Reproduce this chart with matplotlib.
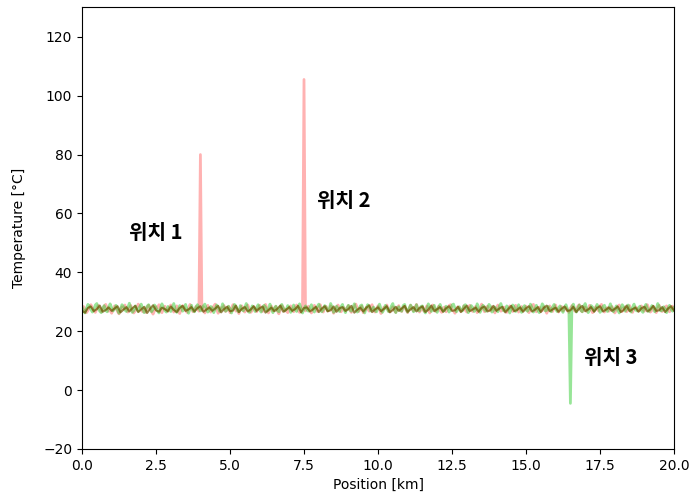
import numpy as np
import matplotlib
matplotlib.use("Agg")
import matplotlib.pyplot as plt

plt.rcParams['font.family'] = ['Noto Sans CJK KR', 'DejaVu Sans']

# position grids along the cable [km]
position = np.linspace(0, 20, 401)
position_ref = np.linspace(0, 20, 201)

# trace 1 (hot spots at 4.0 km and 7.5 km)
temp_red = [
    27.6, 28.4, 27.1, 26.3, 27.0, 28.2, 29.0, 28.1, 26.9, 26.4, 27.5, 28.8, 27.7, 26.6, 27.3, 28.5, 29.1, 27.9, 26.8, 27.4,
    26.1, 27.2, 28.6, 28.0, 26.7, 25.9, 27.1, 28.3, 27.6, 28.9, 27.4, 26.5, 27.8, 28.7, 27.0, 26.2, 26.9, 28.1, 29.2, 28.4,
    27.3, 26.6, 27.7, 26.4, 28.0, 28.8, 27.5, 26.8, 25.8, 27.0, 28.3, 27.9, 29.0, 27.2, 26.3, 27.6, 28.5, 27.1, 26.7, 28.2,
    28.9, 27.8, 26.5, 27.3, 28.6, 26.9, 26.0, 27.4, 28.7, 28.1, 27.0, 26.4, 27.9, 29.1, 27.5, 26.6, 27.2, 28.4, 27.7, 26.8,
    80.0, 27.1, 28.3, 26.2, 27.6, 28.8, 27.3, 26.5, 27.9, 28.5, 29.2, 27.4, 26.1, 26.9, 28.0, 27.5, 28.7, 26.7, 27.2, 28.4,
    26.3, 27.8, 29.0, 28.2, 26.8, 27.4, 26.0, 27.7, 28.6, 27.1, 26.5, 28.1, 28.9, 27.6, 26.4, 27.0, 28.3, 27.8, 26.6, 27.5,
    28.8, 27.2, 26.7, 28.0, 29.1, 27.9, 26.2, 27.3, 28.5, 26.9, 27.6, 28.4, 27.0, 25.9, 27.2, 28.7, 28.1, 26.8, 27.4, 26.3,
    27.9, 28.6, 27.5, 26.6, 28.2, 28.9, 27.1, 26.4, 27.7, 28.3, 105.5, 26.9, 27.8, 28.5, 27.0, 26.2, 27.4, 28.8, 27.6, 26.7,
    28.1, 29.0, 27.3, 26.5, 27.9, 28.4, 26.8, 27.2, 28.6, 27.5, 26.1, 27.0, 28.2, 28.9, 27.7, 26.6, 27.3, 28.0, 26.9, 27.8,
    28.7, 27.1, 26.4, 27.6, 28.3, 29.2, 27.9, 26.7, 27.4, 28.5, 26.3, 27.0, 28.1, 27.6, 26.8, 28.4, 29.0, 27.2, 26.5, 27.7,
    28.6, 27.4, 26.0, 27.1, 28.2, 27.8, 28.9, 26.9, 26.6, 27.5, 28.3, 27.0, 26.4, 27.9, 28.7, 27.3, 26.7, 28.0, 28.5, 27.2,
    26.3, 27.6, 28.8, 27.4, 26.9, 28.1, 29.1, 27.7, 26.5, 27.2, 28.4, 26.8, 27.5, 28.6, 27.1, 26.2, 27.8, 28.9, 28.0, 26.7,
    27.3, 28.5, 27.0, 26.4, 27.9, 28.2, 26.6, 27.4, 28.7, 29.0, 27.6, 26.9, 26.1, 27.5, 28.3, 27.8, 26.8, 27.2, 28.6, 27.1,
    26.5, 28.0, 28.8, 27.3, 26.7, 27.9, 28.4, 26.3, 27.0, 28.1, 29.2, 27.5, 26.6, 27.7, 28.5, 27.2, 26.9, 28.3, 27.4, 26.2,
    27.8, 28.9, 27.6, 26.8, 27.1, 28.2, 27.0, 26.4, 27.5, 28.6, 28.0, 26.7, 27.3, 28.8, 27.9, 26.5, 27.2, 28.4, 26.9, 27.7,
    28.5, 27.1, 26.3, 27.6, 28.7, 29.1, 27.4, 26.6, 27.9, 28.2, 26.8, 27.0, 28.3, 27.5, 26.1, 27.3, 28.6, 27.8, 26.7, 28.0,
    28.9, 27.2, 26.5, 27.7, 28.4, 26.9, 27.4, 28.1, 27.0, 26.4, 27.8, 28.7, 27.6, 26.8, 27.3, 28.5, 29.0, 27.1, 26.6, 27.9,
    28.2, 26.7, 27.5, 28.8, 27.2, 26.3, 27.0, 28.3, 27.7, 26.9, 28.6, 29.1, 27.4, 26.5, 27.8, 28.0, 26.8, 27.3, 28.4, 27.6,
    26.2, 27.1, 28.5, 28.9, 27.5, 26.7, 27.9, 28.2, 26.6, 27.4, 28.7, 27.0, 26.4, 27.6, 28.3, 27.8, 26.9, 27.2, 28.6, 27.3,
    26.8, 28.1, 29.0, 27.7, 26.5, 27.0, 28.4, 27.5, 26.3, 27.9, 28.8, 27.2, 26.7, 27.4, 28.2, 28.6, 27.1, 26.6, 27.8, 28.5,
    27.3,
]

# trace 2 (cold spot at 16.5 km)
temp_green = [
    28.3, 27.0, 26.2, 27.8, 29.1, 28.6, 27.4, 26.5, 27.2, 28.9, 29.4, 27.7, 26.8, 26.3, 27.9, 28.7, 27.1, 26.6, 28.2, 29.3,
    28.0, 26.9, 27.5, 28.8, 27.3, 26.1, 27.6, 29.0, 28.4, 27.2, 26.7, 28.1, 29.5, 27.9, 26.4, 27.0, 28.6, 27.5, 26.8, 28.3,
    29.2, 27.6, 26.3, 27.1, 28.5, 29.0, 27.8, 26.6, 27.4, 28.9, 28.2, 26.9, 26.2, 27.7, 29.3, 28.1, 27.0, 26.5, 28.4, 27.3,
    26.7, 28.0, 29.4, 27.5, 26.4, 27.2, 28.7, 28.3, 26.8, 27.9, 29.1, 27.4, 26.1, 27.6, 28.8, 27.0, 26.6, 28.2, 29.0, 27.8,
    26.9, 27.3, 28.6, 29.2, 27.7, 26.5, 27.1, 28.4, 27.9, 26.3, 27.5, 28.9, 28.1, 26.7, 27.4, 29.3, 28.0, 26.8, 27.2, 28.5,
    27.6, 26.2, 27.8, 29.1, 28.3, 27.0, 26.6, 28.7, 27.4, 26.9, 28.2, 29.4, 27.5, 26.4, 27.1, 28.6, 27.9, 26.7, 28.0, 29.0,
    27.3, 26.5, 27.7, 28.8, 28.2, 26.8, 27.2, 29.2, 27.6, 26.3, 27.9, 28.5, 27.0, 26.6, 28.4, 29.1, 27.8, 26.9, 27.4, 28.7,
    28.1, 26.4, 27.1, 28.9, 27.5, 26.7, 28.3, 29.3, 27.7, 26.2, 27.6, 28.6, 27.2, 26.8, 28.0, 29.0, 27.4, 26.5, 27.8, 28.4,
    29.2, 27.9, 26.6, 27.3, 28.7, 28.1, 26.9, 27.5, 29.4, 28.2, 26.4, 27.0, 28.5, 27.7, 26.7, 28.3, 29.1, 27.4, 26.3, 27.9,
    28.8, 27.2, 26.8, 28.0, 29.3, 27.6, 26.5, 27.1, 28.6, 28.9, 27.3, 26.2, 27.8, 29.0, 28.4, 26.9, 27.5, 28.2, 27.0, 26.6,
    28.1, 29.2, 27.7, 26.4, 27.3, 28.8, 27.9, 26.7, 27.2, 28.5, 29.4, 27.5, 26.3, 27.6, 28.3, 27.0, 26.8, 28.7, 29.1, 27.4,
    26.5, 27.8, 28.9, 28.0, 26.6, 27.4, 29.0, 27.2, 26.9, 28.4, 28.6, 27.1, 26.2, 27.7, 29.3, 28.1, 26.7, 27.5, 28.8, 27.3,
    26.4, 28.2, 29.1, 27.6, 26.8, 27.0, 28.5, 27.9, 26.5, 27.3, 28.9, 29.2, 27.8, 26.6, 27.4, 28.3, 27.1, 26.9, 28.6, 29.0,
    27.5, 26.3, 27.7, 28.7, 28.0, 26.7, 27.2, 29.3, 27.6, 26.4, 28.1, 28.8, 27.3, 26.8, 27.9, 29.1, 28.4, 26.5, 27.0, 28.2,
    27.4, 26.6, 28.5, 29.4, 27.8, 26.9, 27.1, 28.6, 27.7, 26.2, 27.5, 28.9, 28.3, 26.7, 27.3, 29.0, 27.9, 26.4, 28.0, 28.7,
    27.2, 26.8, 27.6, 29.2, 28.1, 26.5, 27.4, 28.8, 27.0, 26.3, 27.8, 29.3, 28.5, 26.9, 27.1, 28.4, 27.7, 26.6, 28.2, 29.1,
    27.5, 26.7, 27.9, 28.6, 27.3, 26.4, 28.0, 29.0, 27.6, 26.8, -4.5, 28.3, 29.2, 27.4, 26.5, 27.8, 28.9, 27.1, 26.6, 28.5,
    29.4, 27.7, 26.3, 27.2, 28.7, 28.2, 26.9, 27.5, 29.1, 27.9, 26.4, 27.0, 28.4, 28.8, 27.3, 26.7, 27.8, 29.3, 28.0, 26.6,
    27.4, 28.6, 27.1, 26.2, 27.7, 29.0, 28.3, 26.8, 27.5, 28.9, 27.6, 26.5, 28.1, 29.2, 27.2, 26.9, 27.9, 28.5, 27.0, 26.4,
    28.2, 29.1, 27.8, 26.7, 27.3, 28.7, 28.0, 26.6, 27.6, 29.4, 28.4, 26.9, 27.1, 28.3, 27.5, 26.3, 27.9, 28.8, 27.4, 26.8,
    28.0,
]

# reference trace
temp_ref = [
    27.0, 26.3, 27.9, 28.4, 26.8, 27.5, 28.7, 26.6, 27.2, 28.1, 26.9, 27.7, 28.5, 26.4, 27.3, 28.2, 26.7, 27.8, 28.6, 26.5,
    27.4, 28.3, 26.2, 27.6, 28.8, 27.1, 26.6, 28.0, 27.5, 26.8, 28.4, 27.2, 26.5, 27.9, 28.6, 26.9, 27.4, 28.2, 26.7, 27.8,
    28.5, 26.6, 27.3, 28.1, 26.9, 27.7, 28.6, 26.4, 27.5, 28.3, 26.8, 27.0, 28.7, 26.5, 27.6, 28.2, 26.7, 27.4, 28.5, 26.9,
    27.8, 28.4, 26.3, 27.2, 28.0, 26.8, 27.6, 28.7, 26.6, 27.3, 28.2, 26.9, 27.5, 28.6, 26.4, 27.9, 28.1, 26.7, 27.4, 28.3,
    26.5, 27.7, 28.5, 26.8, 27.1, 28.4, 26.6, 27.8, 28.2, 26.9, 27.5, 28.6, 26.3, 27.3, 28.0, 26.7, 27.9, 28.8, 26.5, 27.4,
    28.1, 26.8, 27.6, 28.5, 26.4, 27.2, 28.3, 26.9, 27.7, 28.6, 26.6, 27.4, 28.2, 26.7, 27.9, 28.4, 26.5, 27.3, 28.7, 26.8,
    27.5, 28.2, 26.6, 27.8, 28.5, 26.9, 27.1, 28.3, 26.5, 27.6, 28.7, 26.8, 27.4, 28.0, 26.6, 27.9, 28.4, 26.7, 27.2, 28.6,
    26.9, 27.7, 28.3, 26.4, 27.5, 28.6, 26.8, 27.2, 28.1, 26.6, 27.8, 28.5, 26.7, 27.3, 28.2, 26.5, 27.9, 28.7, 26.8, 27.4,
    28.0, 26.6, 27.6, 28.4, 26.9, 27.1, 28.3, 26.5, 27.7, 28.6, 26.8, 27.4, 28.2, 26.6, 27.9, 28.5, 26.7, 27.3, 28.1, 26.9,
    27.6, 28.4, 26.5, 27.2, 28.7, 26.8, 27.5, 28.0, 26.6, 27.8, 28.3, 26.7, 27.4, 28.6, 26.9, 27.1, 28.2, 26.5, 27.7, 28.5,
    27.0,
]

labels = ['위치 1', '위치 2', '위치 3']
label_pos = [(1.6, 53.5), (7.95, 64.3), (16.95, 11.0)]

fig = plt.figure(figsize=(6.92, 5.03), dpi=100)
ax = fig.add_axes([0.1185, 0.1074, 0.8555, 0.878])

ax.plot(position, temp_red, color='red', alpha=0.3, lw=2)
ax.plot(position, temp_green, color='limegreen', alpha=0.5, lw=2)
ax.plot(position_ref, temp_ref, color='#6a5200', alpha=0.7, lw=1.5)

for txt, (px, py) in zip(labels, label_pos):
    ax.text(px, py, txt, fontsize=14.5, fontweight='bold', ha='left', va='center')

ax.set_xlim(0, 20)
ax.set_ylim(-20, 130)
ax.set_xlabel('Position [km]', family='DejaVu Sans')
ax.set_ylabel('Temperature [°C]', family='DejaVu Sans', labelpad=12)
for lab in ax.get_xticklabels() + ax.get_yticklabels():
    lab.set_family('DejaVu Sans')

fig.savefig('out.png', dpi=100)
